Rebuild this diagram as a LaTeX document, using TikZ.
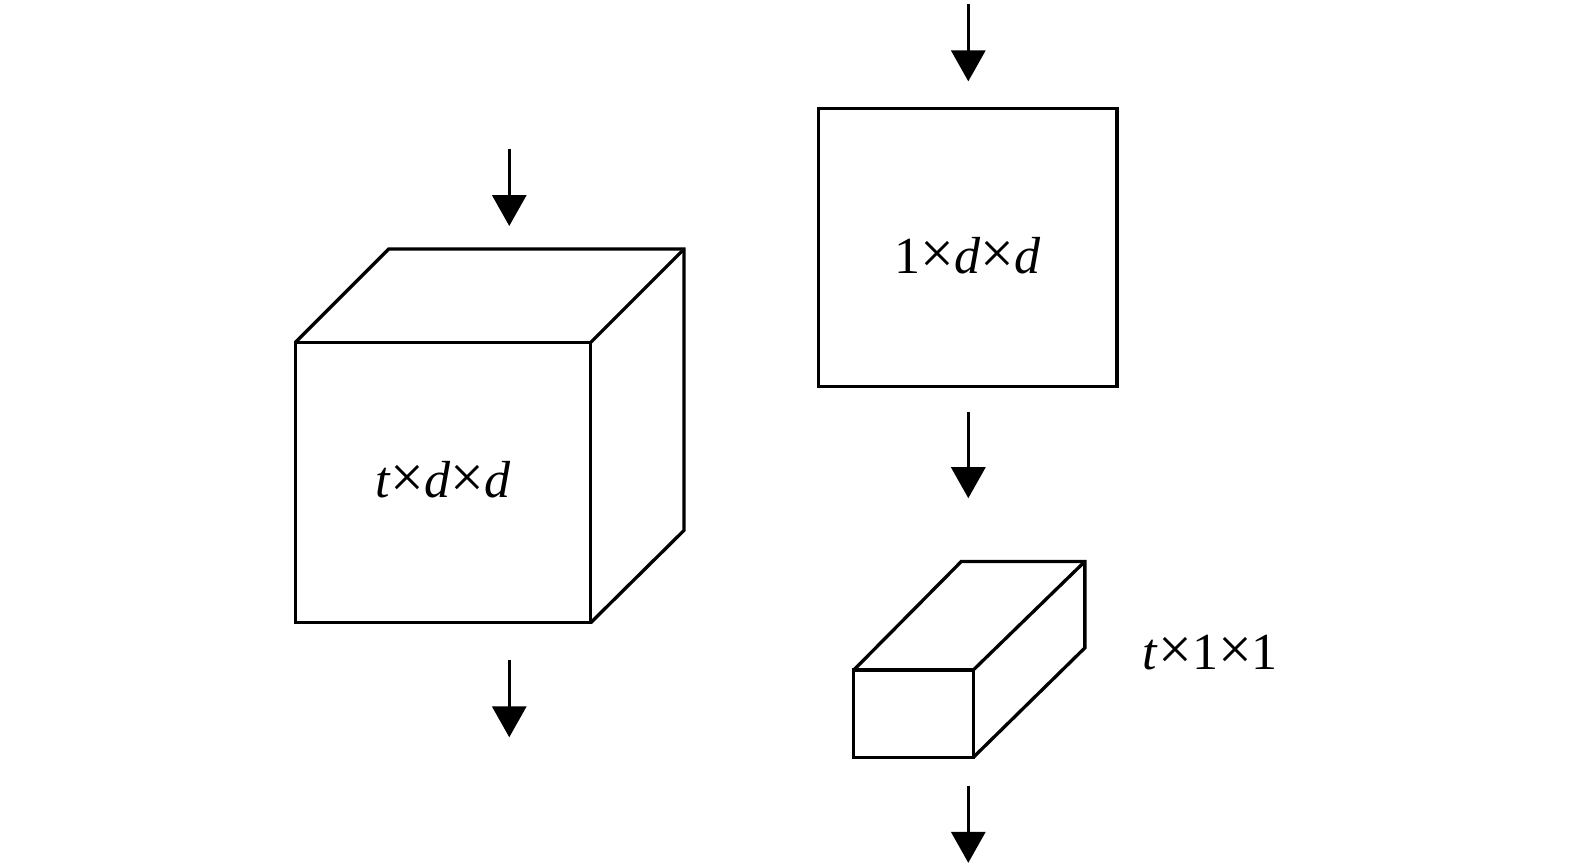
\documentclass[tikz,border=0pt]{standalone}
\usepackage{fontspec}
\setmainfont{Liberation Serif}
\usepackage{graphicx}
\usetikzlibrary{arrows.meta}
\newcommand\tms{\scalebox{1.15}{×}}
\begin{document}
\begin{tikzpicture}[x=1.0045bp,y=-1.0045bp,
  edge/.style={line width=3.3bp,line join=miter},
  flow/.style={line width=3.3bp,-{Triangle[width=34bp,length=31bp]}},
  face/.style={draw,line width=3.3bp,inner sep=0pt,outer sep=0pt},
  lbl/.style={font=\fontsize{52.3}{60}\selectfont,inner sep=0pt}]
\useasboundingbox (0,0) rectangle (1568,862.1);
% left cube
\node[face,minimum width=295.3bp,minimum height=280.3bp] (cf) at (441,480.5) {};
\draw[edge] (cf.north west) -- ++(93,-93) coordinate (ctl) -- ++(294,0) coordinate (ctr) -- ++(0,280) coordinate (cbr) -- (cf.south east);
\draw[edge] (cf.north east) -- (ctr);
\node[lbl] (cl) at (441,478) {\textit{t}\tms\textit{d}\tms\textit{d}};
\coordinate (a1s) at (507,148); \coordinate (a1e) at (507,225);
\draw[flow] (a1s) -- (a1e);
\coordinate (a2s) at (507,657); \coordinate (a2e) at (507,734);
\draw[flow] (a2s) -- (a2e);
% square
\node[face,minimum width=298.3bp,minimum height=278.2bp] (sq) at (963.5,246.5) {};
\node[lbl] (sl) at (963,255) {1\tms\textit{d}\tms\textit{d}};
\coordinate (a3s) at (964,4); \coordinate (a3e) at (964,81);
\draw[flow] (a3s) -- (a3e);
\coordinate (a4s) at (964,410); \coordinate (a4e) at (964,496);
\draw[flow] (a4s) -- (a4e);
% small box
\node[face,minimum width=119.5bp,minimum height=87.4bp] (bf) at (909.5,710.5) {};
\draw[edge] (bf.north west) -- ++(107,-108) coordinate (btl) -- ++(123,0) coordinate (btr) -- ++(0,86) coordinate (bbr) -- (bf.south east);
\draw[edge] (bf.north east) -- (btr);
\node[lbl] (bl) at (1205,650) {\textit{t}\tms1\tms1};
\coordinate (a5s) at (964,782); \coordinate (a5e) at (964,859);
\draw[flow] (a5s) -- (a5e);
\end{tikzpicture}
\end{document}
